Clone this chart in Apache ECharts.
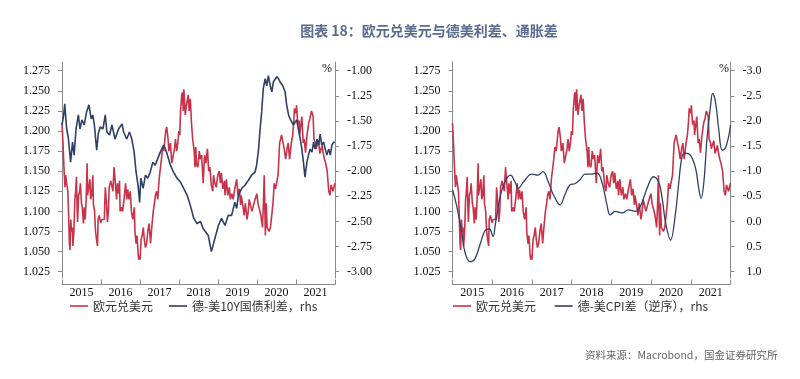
<!DOCTYPE html>
<html><head><meta charset="utf-8">
<script src="https://cdn.jsdelivr.net/npm/echarts@6/dist/echarts.min.js"></script>
<style>html,body{margin:0;padding:0;background:#fff}#c{width:800px;height:379px}</style>
</head><body><div id="c"></div>
<script>
// ---------------- data ----------------
const years = ['2015','2016','2017','2018','2019','2020','2021'];
const eurTicks = [1.025,1.050,1.075,1.100,1.125,1.150,1.175,1.200,1.225,1.250,1.275];
const spreadTicks = [-3.00,-2.75,-2.50,-2.25,-2.00,-1.75,-1.50,-1.25,-1.00];
const cpiTicks = [-3.0,-2.5,-2.0,-1.5,-1.0,-0.5,0.0,0.5,1.0];

// EURUSD (decimal year, value)
const eurusd = [
[2015.000,1.210],[2015.025,1.185],[2015.050,1.155],[2015.075,1.130],[2015.095,1.145],[2015.120,1.135],[2015.150,1.125],[2015.170,1.095],[2015.190,1.060],[2015.205,1.052],[2015.225,1.090],[2015.245,1.075],[2015.265,1.080],[2015.280,1.057],[2015.305,1.075],[2015.330,1.115],[2015.350,1.125],[2015.370,1.143],[2015.390,1.100],[2015.400,1.087],[2015.425,1.120],[2015.455,1.125],[2015.470,1.135],[2015.500,1.110],[2015.520,1.105],[2015.550,1.085],[2015.570,1.105],[2015.595,1.090],[2015.620,1.115],[2015.645,1.160],[2015.655,1.120],[2015.685,1.120],[2015.715,1.140],[2015.735,1.115],[2015.760,1.120],[2015.790,1.145],[2015.805,1.110],[2015.835,1.100],[2015.860,1.075],[2015.885,1.065],[2015.910,1.057],[2015.925,1.090],[2015.955,1.095],[2015.975,1.090],[2015.995,1.086],
[2016.020,1.090],[2016.050,1.088],[2016.085,1.090],[2016.110,1.130],[2016.140,1.110],[2016.165,1.087],[2016.190,1.100],[2016.210,1.130],[2016.250,1.138],[2016.280,1.140],[2016.305,1.125],[2016.335,1.155],[2016.360,1.140],[2016.400,1.115],[2016.420,1.135],[2016.455,1.122],[2016.475,1.138],[2016.490,1.100],[2016.520,1.105],[2016.555,1.100],[2016.590,1.115],[2016.630,1.135],[2016.660,1.115],[2016.685,1.127],[2016.720,1.115],[2016.750,1.125],[2016.780,1.100],[2016.815,1.090],[2016.855,1.105],[2016.870,1.075],[2016.900,1.060],[2016.925,1.070],[2016.955,1.045],[2016.970,1.040],[2016.990,1.045],
[2017.000,1.040],[2017.030,1.065],[2017.055,1.070],[2017.085,1.080],[2017.110,1.065],[2017.140,1.055],[2017.170,1.060],[2017.200,1.075],[2017.235,1.085],[2017.270,1.060],[2017.310,1.085],[2017.340,1.100],[2017.370,1.110],[2017.395,1.120],[2017.425,1.125],[2017.455,1.115],[2017.490,1.140],[2017.520,1.142],[2017.550,1.165],[2017.580,1.180],[2017.610,1.175],[2017.660,1.200],[2017.685,1.205],[2017.720,1.190],[2017.740,1.175],[2017.780,1.185],[2017.815,1.160],[2017.850,1.158],[2017.885,1.178],[2017.910,1.190],[2017.940,1.175],[2017.970,1.185],[2017.995,1.200],
[2018.020,1.195],[2018.040,1.225],[2018.070,1.245],[2018.085,1.248],[2018.110,1.225],[2018.125,1.252],[2018.160,1.220],[2018.190,1.232],[2018.235,1.245],[2018.260,1.225],[2018.290,1.240],[2018.320,1.210],[2018.350,1.190],[2018.390,1.175],[2018.410,1.155],[2018.430,1.180],[2018.450,1.158],[2018.485,1.155],[2018.520,1.175],[2018.550,1.165],[2018.580,1.170],[2018.620,1.135],[2018.655,1.170],[2018.690,1.160],[2018.730,1.178],[2018.760,1.150],[2018.790,1.155],[2018.830,1.132],[2018.865,1.125],[2018.885,1.145],[2018.920,1.135],[2018.955,1.130],[2018.995,1.145],
[2019.030,1.150],[2019.060,1.135],[2019.085,1.148],[2019.125,1.128],[2019.165,1.138],[2019.180,1.120],[2019.215,1.140],[2019.250,1.120],[2019.290,1.130],[2019.315,1.115],[2019.355,1.122],[2019.390,1.115],[2019.430,1.128],[2019.480,1.140],[2019.510,1.120],[2019.545,1.128],[2019.580,1.108],[2019.595,1.120],[2019.635,1.108],[2019.670,1.095],[2019.700,1.110],[2019.745,1.090],[2019.770,1.098],[2019.800,1.115],[2019.835,1.115],[2019.870,1.100],[2019.910,1.100],[2019.950,1.115],[2019.995,1.122],
[2020.025,1.110],[2020.075,1.100],[2020.100,1.095],[2020.140,1.080],[2020.165,1.110],[2020.185,1.145],[2020.215,1.070],[2020.235,1.110],[2020.260,1.080],[2020.310,1.075],[2020.345,1.080],[2020.370,1.082],[2020.410,1.110],[2020.440,1.135],[2020.475,1.128],[2020.510,1.130],[2020.540,1.145],[2020.580,1.185],[2020.630,1.195],[2020.665,1.195],[2020.690,1.180],[2020.735,1.165],[2020.770,1.178],[2020.800,1.185],[2020.835,1.165],[2020.880,1.185],[2020.915,1.195],[2020.940,1.210],[2020.960,1.228],[2020.995,1.222],
[2021.015,1.232],[2021.045,1.208],[2021.080,1.213],[2021.095,1.195],[2021.150,1.218],[2021.185,1.185],[2021.210,1.190],[2021.245,1.173],[2021.275,1.192],[2021.325,1.210],[2021.355,1.215],[2021.395,1.225],[2021.415,1.222],[2021.440,1.218],[2021.460,1.190],[2021.500,1.185],[2021.515,1.178],[2021.555,1.178],[2021.580,1.188],[2021.610,1.172],[2021.635,1.170],[2021.670,1.182],[2021.700,1.172],[2021.730,1.165],[2021.760,1.160],[2021.800,1.150],[2021.840,1.125],[2021.870,1.120],[2021.900,1.133],[2021.950,1.125],[2021.995,1.135]
];

// DE-US 10Y yield spread, %
const spread10y = [
[2015.00,-1.54],[2015.04,-1.45],[2015.07,-1.33],[2015.12,-1.58],[2015.16,-1.66],[2015.19,-1.78],[2015.22,-1.91],[2015.27,-1.71],[2015.31,-1.84],[2015.36,-1.58],[2015.42,-1.44],[2015.46,-1.58],[2015.51,-1.49],[2015.57,-1.54],[2015.63,-1.41],[2015.69,-1.34],[2015.75,-1.48],[2015.79,-1.44],[2015.83,-1.54],[2015.89,-1.79],[2015.93,-1.63],[2015.98,-1.56],
[2016.05,-1.58],[2016.11,-1.44],[2016.15,-1.61],[2016.22,-1.64],[2016.28,-1.54],[2016.36,-1.68],[2016.45,-1.58],[2016.54,-1.53],[2016.58,-1.61],[2016.66,-1.68],[2016.73,-1.61],[2016.79,-1.68],[2016.85,-1.81],[2016.90,-2.01],[2016.95,-2.14],[2016.99,-2.31],
[2017.02,-2.07],[2017.08,-2.17],[2017.14,-2.04],[2017.20,-2.07],[2017.26,-2.01],[2017.33,-1.91],[2017.39,-1.94],[2017.45,-1.88],[2017.52,-1.81],[2017.61,-1.74],[2017.68,-1.81],[2017.78,-1.94],[2017.86,-2.01],[2017.95,-2.07],
[2018.04,-2.11],[2018.12,-2.17],[2018.21,-2.24],[2018.29,-2.34],[2018.38,-2.47],[2018.46,-2.52],[2018.55,-2.50],[2018.62,-2.57],[2018.75,-2.64],[2018.83,-2.80],[2018.92,-2.67],
[2019.01,-2.54],[2019.09,-2.47],[2019.18,-2.54],[2019.26,-2.44],[2019.35,-2.44],[2019.43,-2.31],[2019.48,-2.37],[2019.52,-2.24],[2019.61,-2.17],[2019.69,-2.14],[2019.78,-2.09],[2019.86,-2.04],[2019.95,-2.01],[2019.99,-1.94],
[2020.04,-1.78],[2020.08,-1.58],[2020.12,-1.41],[2020.16,-1.18],[2020.21,-1.08],[2020.25,-1.15],[2020.29,-1.05],[2020.34,-1.15],[2020.38,-1.21],[2020.42,-1.11],[2020.51,-1.06],[2020.55,-1.08],[2020.59,-1.11],[2020.66,-1.15],[2020.72,-1.21],[2020.76,-1.34],[2020.81,-1.44],[2020.85,-1.48],[2020.89,-1.51],[2020.94,-1.54],[2020.98,-1.51],
[2021.02,-1.49],[2021.06,-1.58],[2021.11,-1.68],[2021.15,-1.78],[2021.19,-1.91],[2021.23,-2.06],[2021.28,-1.91],[2021.32,-1.84],[2021.36,-1.78],[2021.41,-1.81],[2021.45,-1.71],[2021.49,-1.78],[2021.54,-1.68],[2021.58,-1.74],[2021.62,-1.63],[2021.66,-1.74],[2021.71,-1.71],[2021.75,-1.78],[2021.79,-1.84],[2021.84,-1.78],[2021.88,-1.84],[2021.92,-1.74],[2021.97,-1.71],[2021.99,-1.72]
];

// DE-US CPI difference, % (plotted on inverted axis)
const cpiDiff = [
[2015.00,-0.63],[2015.10,-0.33],[2015.23,0.20],[2015.31,0.60],[2015.44,0.80],[2015.56,0.75],[2015.69,0.47],[2015.82,0.18],[2015.93,0.15],[2016.02,0.30],[2016.08,0.05],[2016.19,-0.46],[2016.32,-0.79],[2016.46,-0.92],[2016.57,-0.79],[2016.66,-0.66],[2016.79,-0.79],
[2017.00,-0.94],[2017.15,-0.92],[2017.28,-0.99],[2017.41,-0.79],[2017.54,-0.53],[2017.71,-0.33],[2017.83,-0.53],[2017.96,-0.73],[2018.08,-0.75],[2018.21,-0.83],[2018.34,-0.94],[2018.47,-0.94],[2018.64,-0.96],[2018.76,-0.79],[2018.89,-0.33],[2018.97,-0.13],
[2019.10,-0.20],[2019.27,-0.17],[2019.43,-0.23],[2019.60,-0.20],[2019.73,-0.30],[2019.90,-0.66],[2020.06,-0.89],[2020.19,-0.79],[2020.28,-0.46],[2020.36,0.00],[2020.49,0.37],[2020.61,-0.13],[2020.70,-0.79],[2020.78,-1.29],[2020.86,-1.36],[2020.99,-1.32],
[2021.12,-1.06],[2021.20,-0.66],[2021.26,-0.46],[2021.33,-0.79],[2021.41,-1.66],[2021.50,-2.32],[2021.55,-2.55],[2021.62,-2.39],[2021.71,-1.79],[2021.79,-1.42],[2021.87,-1.46],[2021.96,-1.72],[2022.00,-1.92]
];

// ---------------- layout / style ----------------
const RED = '#c8334a', NAVY = '#2e4068', AX = '#8a8a8a';
const SERIF = '"Liberation Serif","Times New Roman",serif';
const CJK = '"Noto Sans CJK SC","Noto Sans",sans-serif';
const TOP = 62, BOT = 278, T0 = 70.7, T1 = 271.7;   // axis line span vs. first/last tick
function span(vTop, vBot) {           // value at T0, value at T1 -> value at axis ends
  const k = (vBot - vTop) / (T1 - T0);
  return { top: vTop + (TOP - T0) * k, bot: vBot + (BOT - T1) * k };
}
const sEur = span(1.275, 1.025), sSpr = span(-1, -3), sCpi = span(-3, 1);

function yAx(grid, pos, rng, ticks, dec, extra, lblExtra) {
  return Object.assign({
    type: 'value', gridIndex: grid, position: pos,
    min: Math.min(rng.top, rng.bot), max: Math.max(rng.top, rng.bot),
    axisLine: { show: true, onZero: false, lineStyle: { color: AX, width: 1 } },
    axisTick: { show: true, length: 4, lineStyle: { color: AX }, customValues: ticks },
    axisLabel: Object.assign({ customValues: ticks, formatter: v => v.toFixed(dec), fontFamily: SERIF, fontSize: 12, color: '#111', margin: 12 }, lblExtra || {}),
    splitLine: { show: false }
  }, extra || {});
}
function xAxes(grid) {
  return [{
    type: 'value', gridIndex: grid, min: 2015, max: 2022, interval: 1, position: 'bottom', offset: 6.5,
    axisLine: { show: true, onZero: false, lineStyle: { color: AX } },
    axisTick: { show: true, inside: true, length: 5, lineStyle: { color: AX } },
    axisLabel: { show: false }, splitLine: { show: false }
  }, {
    type: 'category', gridIndex: grid, data: years, position: 'bottom', offset: 6.5, boundaryGap: true,
    axisLine: { show: false, onZero: false }, axisTick: { show: false }, splitLine: { show: false },
    axisLabel: { fontFamily: SERIF, fontSize: 12, color: '#111', margin: 2 }
  }];
}
const line = (name, x, y, data, color, extra) => Object.assign({
  type: 'line', name, xAxisIndex: x, yAxisIndex: y, data, showSymbol: false, symbol: 'none',
  lineStyle: { color, width: 1.6 }, itemStyle: { color }, silent: true
}, extra || {});

const legendBase = {
  orient: 'horizontal', top: 295, icon: 'rect', itemWidth: 18, itemHeight: 1.6, itemGap: 16,
  textStyle: { fontFamily: CJK, fontSize: 12, color: '#333' }, selectedMode: false
};

const chart = echarts.init(document.getElementById('c'), null, { renderer: 'canvas' });
chart.setOption({
  animation: false,
  backgroundColor: '#fff',
  title: [
    { text: '图表 18：欧元兑美元与德美利差、通胀差', left: 424, textAlign: 'center', top: 19,
      textStyle: { fontFamily: CJK, fontSize: 14, fontWeight: 'bold', color: '#5b6b8e' } },
    { text: '资料来源：Macrobond，国金证券研究所', left: 580, top: 345,
      textStyle: { fontFamily: CJK, fontSize: 10.5, fontWeight: 'normal', color: '#666' } }
  ],
  grid: [
    { left: 62, top: TOP, width: 273, height: BOT - TOP },
    { left: 452.5, top: TOP, width: 278, height: BOT - TOP }
  ],
  xAxis: [...xAxes(0), ...xAxes(1)],
  yAxis: [
    yAx(0, 'left', sEur, eurTicks, 3),
    yAx(0, 'right', sSpr, spreadTicks, 2),
    yAx(1, 'left', sEur, eurTicks, 3),
    yAx(1, 'right', sCpi, cpiTicks, 1, { inverse: true }, { align: 'right', margin: 31 }),
  ],
  legend: [
    Object.assign({}, legendBase, { left: 65, data: ['欧元兑美元', '德-美10Y国债利差，rhs'] }),
    Object.assign({}, legendBase, { left: 448, data: ['欧元兑美元 ', '德-美CPI差（逆序），rhs'] })
  ],
  graphic: [
    { type: 'text', left: 322, top: 63, style: { text: '%', font: '12px ' + SERIF, fill: '#111' } },
    { type: 'text', left: 719, top: 63, style: { text: '%', font: '12px ' + SERIF, fill: '#111' } }
  ],
  series: [
    line('欧元兑美元', 0, 0, eurusd, RED),
    line('德-美10Y国债利差，rhs', 0, 1, spread10y, NAVY),
    line('欧元兑美元 ', 2, 2, eurusd, RED),
    line('德-美CPI差（逆序），rhs', 2, 3, cpiDiff, NAVY, { smooth: 0.4, lineStyle: { color: NAVY, width: 1.3 } })
  ]
});
</script></body></html>
